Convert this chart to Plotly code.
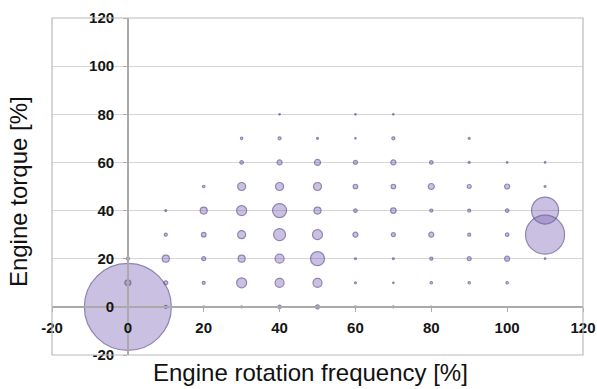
import plotly.graph_objects as go

# Engine operating points: rotation frequency [%], torque [%], relative frequency (max = 100)
rotation = [0, 0, 0,
            10, 10, 10, 10, 10,
            20, 20, 20, 20, 20, 20,
            30, 30, 30, 30, 30, 30, 30, 30,
            40, 40, 40, 40, 40, 40, 40, 40, 40,
            50, 50, 50, 50, 50, 50, 50, 50,
            60, 60, 60, 60, 60, 60, 60, 60, 60,
            70, 70, 70, 70, 70, 70, 70, 70, 70,
            80, 80, 80, 80, 80, 80, 80,
            90, 90, 90, 90, 90, 90, 90,
            100, 100, 100, 100, 100, 100,
            110, 110, 110, 110, 110]
torque = [0, 10, 20,
          0, 10, 20, 30, 40,
          0, 10, 20, 30, 40, 50,
          0, 10, 20, 30, 40, 50, 60, 70,
          0, 10, 20, 30, 40, 50, 60, 70, 80,
          0, 10, 20, 30, 40, 50, 60, 70,
          0, 10, 20, 30, 40, 50, 60, 70, 80,
          0, 10, 20, 30, 40, 50, 60, 70, 80,
          0, 10, 20, 30, 40, 50, 60,
          10, 20, 30, 40, 50, 60, 70,
          10, 20, 30, 40, 50, 60,
          20, 30, 40, 50, 60]
share = [100, 0.48, 0.12,
         0.12, 0.21, 0.65, 0.12, 0.05,
         0.05, 0.12, 0.21, 0.27, 0.65, 0.08,
         0.05, 1.32, 0.65, 0.85, 1.32, 0.85, 0.16, 0.08,
         0.16, 1.07, 1.07, 1.90, 2.59, 0.85, 0.33, 0.12, 0.03,
         0.21, 1.07, 2.59, 1.32, 0.65, 0.85, 0.48, 0.05,
         0.05, 0.05, 0.05, 0.33, 0.16, 0.27, 0.21, 0.03, 0.03,
         0.05, 0.03, 0.05, 0.21, 0.40, 0.27, 0.33, 0.12, 0.03,
         0.03, 0.08, 0.12, 0.33, 0.12, 0.48, 0.16,
         0.08, 0.21, 0.12, 0.12, 0.21, 0.05, 0.05,
         0.08, 0.33, 0.16, 0.16, 0.33, 0.03,
         0.03, 20.1, 9.63, 0.05, 0.03]

tick_vals = [-20, 0, 20, 40, 60, 80, 100, 120]
tick_text = [str(v) for v in tick_vals]

x_title = "Engine rotation frequency [%]"
y_title = "Engine torque [%]"

max_diam = 87
fig = go.Figure(go.Scatter(
    x=rotation, y=torque, mode="markers",
    marker=dict(size=share, sizemode="area",
                sizeref=2 * max(share) / max_diam ** 2,
                color="rgba(120,92,178,0.55)",
                line=dict(color="rgba(92,74,142,0.95)", width=1.2)),
    hoverinfo="skip", showlegend=False,
))

tick_font = dict(family="Liberation Sans, Arial, sans-serif", size=15, color="#151515")

fig.update_layout(
    width=597, height=389,
    margin=dict(l=52, r=14, t=18, b=34, autoexpand=False),
    paper_bgcolor="white", plot_bgcolor="white",
    xaxis=dict(range=[-20, 120], tickvals=tick_vals, ticktext=tick_text,
               anchor="free", position=20 / 140, automargin=False,
               showgrid=False, zeroline=False,
               showline=True, linecolor="#aaaaaa", linewidth=1.5,
               ticks="outside", ticklen=4, tickcolor="#aaaaaa",
               ticklabelstandoff=3,
               tickfont=dict(tick_font, weight="bold")),
    yaxis=dict(range=[-20, 120], tickvals=tick_vals, ticktext=tick_text,
               anchor="free", position=20 / 140, automargin=False,
               showgrid=True, gridcolor="#d6d6d6", gridwidth=1,
               zeroline=False,
               showline=True, linecolor="#aaaaaa", linewidth=1.5,
               ticks="outside", ticklen=4, tickcolor="#aaaaaa",
               ticklabelstandoff=6,
               tickfont=dict(tick_font, weight="bold")),
    shapes=[dict(type="rect", xref="paper", yref="paper", x0=0, x1=1, y0=0, y1=1,
                 line=dict(color="#b9b9b9", width=1.2), layer="above")],
    annotations=[
        dict(text=x_title, xref="paper", yref="paper", x=0.486, y=-0.053,
             showarrow=False, xanchor="center", yanchor="middle",
             font=dict(family="Liberation Sans, Arial, sans-serif", size=24, color="#111111")),
        dict(text=y_title, xref="paper", yref="paper", x=-0.063, y=0.485, textangle=-90,
             showarrow=False, xanchor="center", yanchor="middle",
             font=dict(family="Liberation Sans, Arial, sans-serif", size=24, color="#111111")),
    ],
)

fig.write_html("out.html", config={"displayModeBar": False},
               post_script="document.body.style.margin='0px';")
